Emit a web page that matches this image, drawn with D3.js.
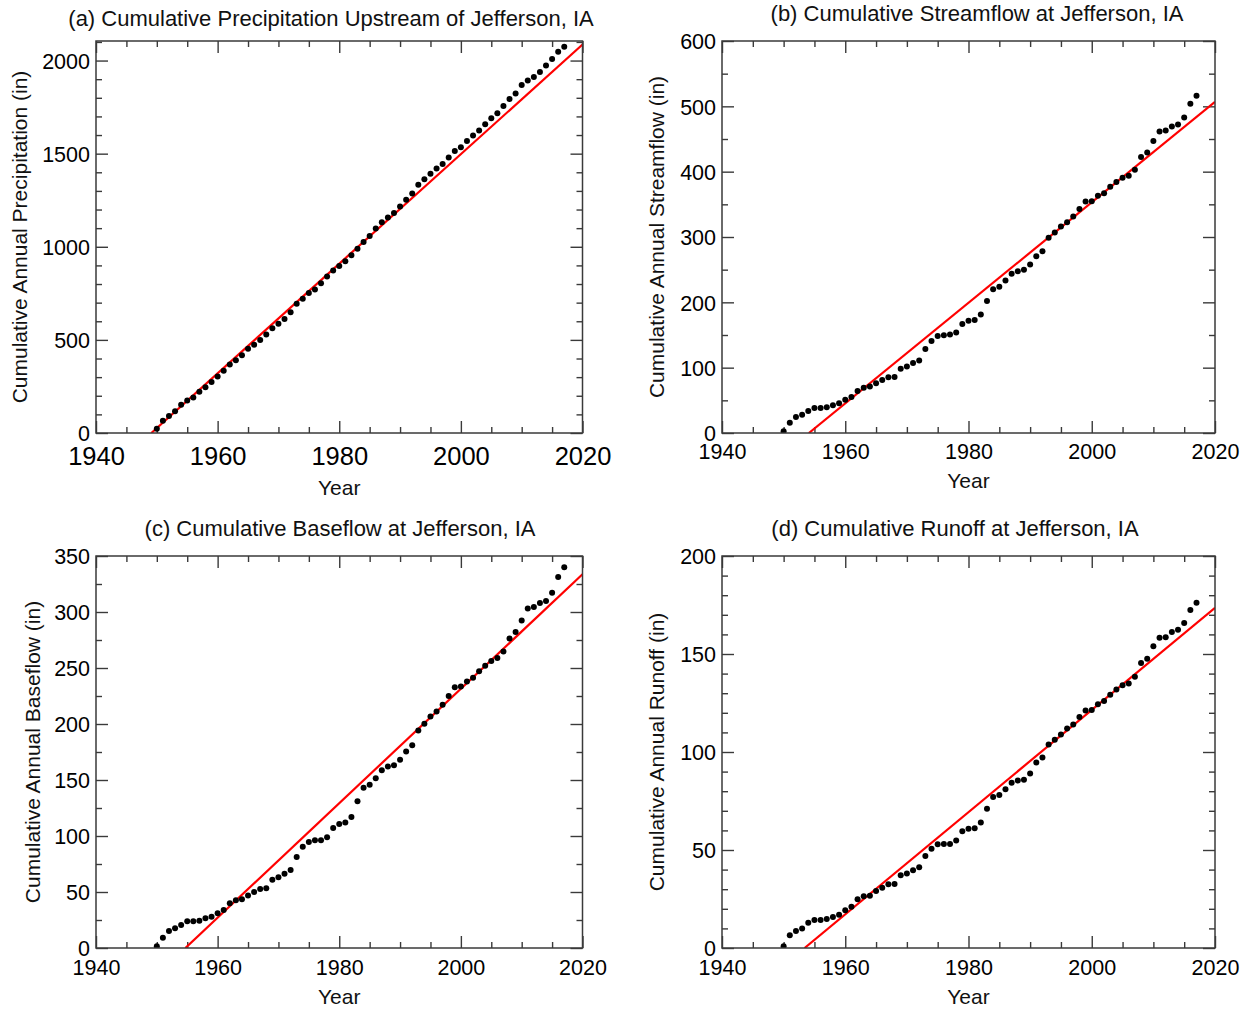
<!DOCTYPE html>
<html>
<head>
<meta charset="utf-8">
<script src="https://cdn.jsdelivr.net/npm/d3@7"></script>
<style>
  body { margin: 0; background: #fff; }
  svg { display: block; font-family: "Liberation Sans", Arial, sans-serif; }
</style>
</head>
<body>
<svg id="chart" width="1249" height="1009"></svg>
<script>
// Water years with cumulative totals (inches)
const years = [
  1950, 1951, 1952, 1953, 1954, 1955, 1956, 1957, 1958, 1959,
  1960, 1961, 1962, 1963, 1964, 1965, 1966, 1967, 1968, 1969,
  1970, 1971, 1972, 1973, 1974, 1975, 1976, 1977, 1978, 1979,
  1980, 1981, 1982, 1983, 1984, 1985, 1986, 1987, 1988, 1989,
  1990, 1991, 1992, 1993, 1994, 1995, 1996, 1997, 1998, 1999,
  2000, 2001, 2002, 2003, 2004, 2005, 2006, 2007, 2008, 2009,
  2010, 2011, 2012, 2013, 2014, 2015, 2016, 2017
];

const precipitation = [
  23, 66, 91, 117, 152, 174, 190, 221, 246, 274,
  303, 334, 368, 391, 418, 452, 474, 499, 529, 562,
  587, 612, 649, 694, 721, 752, 771, 804, 840, 872,
  897, 922, 954, 990, 1026, 1058, 1098, 1132, 1157, 1182,
  1216, 1252, 1286, 1333, 1362, 1392, 1421, 1444, 1480, 1514,
  1534, 1568, 1597, 1625, 1658, 1690, 1717, 1756, 1794, 1823,
  1869, 1893, 1912, 1939, 1973, 2009, 2047, 2074
];

const streamflow = [
  2.6, 15.8, 24.5, 28, 33.7, 38.3, 38.3, 39.3, 42.4, 45.4,
  51, 55, 64.3, 69.4, 71, 76, 81, 85.3, 85.8, 98.5,
  101.6, 107, 110.8, 128.7, 141, 148.6, 149.6, 150.6, 153.7, 167,
  172, 173, 181.3, 202.2, 220, 224, 233.3, 243.6, 247.6, 250,
  257.9, 270.6, 278.3, 298.7, 307, 316, 322.7, 331.4, 343, 354.4,
  354.9, 363, 367, 376.8, 384, 390.6, 393.7, 402.9, 422.3, 429.4,
  446.8, 461.6, 463.1, 469.2, 472.3, 483, 504, 516.2
];

const baseflow = [
  1.5, 9.2, 15.2, 17.6, 20.6, 23.8, 23.8, 24.4, 26.5, 28,
  31, 34, 39.9, 42.6, 43.5, 46.8, 50, 52.7, 53.3, 61,
  63.1, 66.4, 69.7, 81.3, 90.3, 94.7, 96.2, 96.2, 98.9, 107.2,
  110.8, 112, 117, 131, 143, 145.7, 151.6, 158.8, 162, 163.2,
  168, 175.4, 181.1, 194.2, 200.2, 206.7, 211.2, 217.2, 224.9, 232.9,
  233.5, 238, 241.3, 247.2, 252, 256.2, 258.9, 264.8, 276.4, 282.1,
  292.5, 303.2, 304.4, 308, 309.8, 317.2, 331.2, 339.9
];

const runoff = [
  0.85, 6.5, 8.7, 10, 12.9, 14.3, 14.3, 14.8, 15.8, 17,
  19.2, 21.1, 24.9, 26.4, 26.6, 29.1, 30.8, 32.5, 32.7, 37.1,
  38, 39.7, 41.2, 47, 50.6, 52.9, 53.1, 53.1, 54.8, 59.6,
  60.8, 61.1, 64, 71.1, 77.1, 78.1, 81, 84.3, 85.4, 85.8,
  89, 94.6, 97.2, 103.8, 106.2, 108.9, 112, 114, 117.8, 121.2,
  121.4, 124.4, 126, 129.2, 131.9, 134.1, 135, 138.4, 145.4, 147.6,
  154, 158.3, 158.6, 161.2, 162.4, 165.8, 172.4, 176.2
];

// Fitted linear trends: [year, cumulative value] end points
const precipitationTrend = [[1949.1, 0], [2020, 2086]];
const streamflowTrend    = [[1954.1, 0], [2020, 507]];
const baseflowTrend      = [[1954.7, 0], [2020, 333.7]];
const runoffTrend        = [[1953.4, 0], [2020, 173.6]];

const titles = [
  "(a) Cumulative Precipitation Upstream of Jefferson, IA",
  "(b) Cumulative Streamflow at Jefferson, IA",
  "(c) Cumulative Baseflow at Jefferson, IA",
  "(d) Cumulative Runoff at Jefferson, IA"
];
const yLabels = [
  "Cumulative Annual Precipitation (in)",
  "Cumulative Annual Streamflow (in)",
  "Cumulative Annual Baseflow (in)",
  "Cumulative Annual Runoff (in)"
];
const yMaxima = [2105, 600, 350, 200];
const yMajorSteps = [500, 100, 50, 50];
const yMinorSteps = [100, 50, 25, 10];
const xMajorTicks = [1940, 1960, 1980, 2000, 2020];
const xMinorStep = 5;

// Layout of the four panels
const layout = [
  { left: 96,  right: 582.5, top: 41,  bottom: 433, titleX: 331, titleY: 26, xTickFont: 25.5, xTickY: 23, yLabelX: 20,  xLabelY: 495 },
  { left: 722, right: 1215,  top: 41,  bottom: 433, titleX: 977, titleY: 21, xTickFont: 21.5, xTickY: 18, yLabelX: 657, xLabelY: 488 },
  { left: 96,  right: 582.5, top: 556, bottom: 948, titleX: 340, titleY: 536, xTickFont: 21.5, xTickY: 19, yLabelX: 33,  xLabelY: 1004 },
  { left: 722, right: 1215,  top: 556, bottom: 948, titleX: 955, titleY: 536, xTickFont: 21.5, xTickY: 19, yLabelX: 657, xLabelY: 1004 }
];

const series = [precipitation, streamflow, baseflow, runoff];
const trends = [precipitationTrend, streamflowTrend, baseflowTrend, runoffTrend];

const svg = d3.select("#chart");
const axisColor = "#3a3a3a";

series.forEach((values, i) => {
  const L = layout[i];
  const w = L.right - L.left, h = L.bottom - L.top;
  const g = svg.append("g").attr("transform", `translate(${L.left},${L.top})`);

  const x = d3.scaleLinear().domain([1940, 2020]).range([0, w]);
  const y = d3.scaleLinear().domain([0, yMaxima[i]]).range([h, 0]);

  const clipId = "clip" + i;
  g.append("clipPath").attr("id", clipId)
    .append("rect").attr("width", w).attr("height", h);

  const xMinor = d3.range(1940, 2020 + 0.1, xMinorStep).filter(v => !xMajorTicks.includes(v));
  const yMajor = d3.range(0, yMaxima[i] + 0.1, yMajorSteps[i]);
  const yMinor = d3.range(0, yMaxima[i] + 0.1, yMinorSteps[i]).filter(v => v % yMajorSteps[i] !== 0);

  const styleAxis = sel => {
    sel.select(".domain").remove();
    sel.selectAll(".tick line").attr("stroke", axisColor).attr("stroke-width", 1.4);
  };

  // bottom axis with labels
  const bottom = g.append("g").attr("transform", `translate(0,${h})`)
    .call(d3.axisBottom(x).tickValues(xMajorTicks).tickSize(-12).tickFormat(d3.format("d")))
    .call(styleAxis);
  bottom.selectAll("text")
    .attr("fill", "#000").attr("font-size", L.xTickFont)
    .attr("y", L.xTickY).attr("dy", "0.35em");
  g.append("g").attr("transform", `translate(0,${h})`)
    .call(d3.axisBottom(x).tickValues(xMinor).tickSize(-6).tickFormat(""))
    .call(styleAxis);

  // top axis (ticks only)
  g.append("g").call(d3.axisTop(x).tickValues(xMajorTicks).tickSize(-12).tickFormat("")).call(styleAxis);
  g.append("g").call(d3.axisTop(x).tickValues(xMinor).tickSize(-6).tickFormat("")).call(styleAxis);

  // left axis with labels
  const left = g.append("g")
    .call(d3.axisLeft(y).tickValues(yMajor).tickSize(-12).tickPadding(6).tickFormat(d3.format("d")))
    .call(styleAxis);
  left.selectAll("text").attr("fill", "#000").attr("font-size", 21.5).attr("dy", "0.36em");
  g.append("g").call(d3.axisLeft(y).tickValues(yMinor).tickSize(-6).tickFormat("")).call(styleAxis);

  // right axis (ticks only)
  g.append("g").attr("transform", `translate(${w},0)`)
    .call(d3.axisRight(y).tickValues(yMajor).tickSize(-12).tickFormat("")).call(styleAxis);
  g.append("g").attr("transform", `translate(${w},0)`)
    .call(d3.axisRight(y).tickValues(yMinor).tickSize(-6).tickFormat("")).call(styleAxis);

  // trend line
  g.append("path")
    .datum(trends[i])
    .attr("clip-path", `url(#${clipId})`)
    .attr("fill", "none").attr("stroke", "#ff0000").attr("stroke-width", 2.2)
    .attr("d", d3.line().x(d => x(d[0])).y(d => y(d[1])));

  // cumulative points
  g.append("g").attr("clip-path", `url(#${clipId})`)
    .selectAll("circle")
    .data(values.map((v, k) => [years[k], v]))
    .join("circle")
    .attr("cx", d => x(d[0])).attr("cy", d => y(d[1]))
    .attr("r", 3).attr("fill", "#000");

  // frame
  g.append("rect").attr("width", w).attr("height", h)
    .attr("fill", "none").attr("stroke", axisColor).attr("stroke-width", 1.5);

  // title and axis labels
  svg.append("text").attr("x", L.titleX).attr("y", L.titleY)
    .attr("text-anchor", "middle").attr("font-size", 22).attr("fill", "#111")
    .text(titles[i]);
  svg.append("text").attr("x", (L.left + L.right) / 2).attr("y", L.xLabelY)
    .attr("text-anchor", "middle").attr("font-size", 21).attr("fill", "#111")
    .text("Year");
  svg.append("text")
    .attr("transform", `translate(${L.yLabelX},${(L.top + L.bottom) / 2}) rotate(-90)`)
    .attr("text-anchor", "middle").attr("dy", "0.35em")
    .attr("font-size", 21).attr("fill", "#111")
    .text(yLabels[i]);
});
</script>
</body>
</html>
